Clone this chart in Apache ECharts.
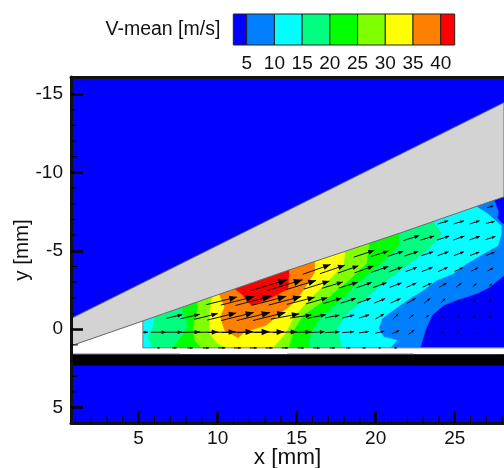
<!DOCTYPE html>
<html><head><meta charset="utf-8">
<style>html,body{margin:0;padding:0;background:#fff}#c{width:504px;height:468px}</style>
<script src="https://cdn.jsdelivr.net/npm/echarts@6/dist/echarts.min.js"></script>
</head><body><div id="c"></div>
<script>
// --- tick values
const xMinorTicks = [1,2,3,4,6,7,8,9,11,12,13,14,16,17,18,19,21,22,23,24,26,27,28];
const yMinorTicks = [-14,-13,-12,-11,-9,-8,-7,-6,-4,-3,-2,-1,1,2,3,4];
// --- colour legend
const legendEdges = [2.58,5,10,15,20,25,30,35,40,42.52];
const legendColors = ['#0000ff','#0080ff','#00ffff','#00ff80','#00ff00','#80ff00','#ffff00','#ff8000','#ff0000'];
// --- filled contour levels: [x mm, y mm] outlines, each painted over the previous
const level5 = [[5.27,1.19],[5.27,-1.5],[26,-10],[28.12,-10],[28.12,-3.43],[27.21,-2.68],[26.37,-2.26],[25.1,-1.84],[24.3,-1.52],[23.57,-0.89],[23.14,0.06],[22.83,1.19]];
const level0Spot = [[27.53,-8.2],[27.8,-7.51],[27.74,-7.09],[27.95,-6.82],[28.12,-6.71],[28.12,-8.6]];
const level10 = [[5.27,1.19],[5.27,-1.5],[25.9,-10],[26.27,-7.88],[27.11,-7.35],[27.95,-6.6],[27.95,-6.07],[27.74,-5.33],[26.79,-4.8],[25.74,-4.17],[24.89,-3.53],[23.84,-3.11],[22.99,-2.47],[22.3,-2.05],[21.24,-1.31],[20.4,-0.68],[20.19,-0.04],[20.51,0.49],[21.35,0.7],[20.93,1.19]];
const level15 = [[6.9,-3],[6.96,-1.31],[6.01,-0.68],[5.91,-0.15],[5.59,0.49],[5.91,1.19],[17.87,1.19],[17.55,-0.04],[18.18,-0.99],[19.45,-2.05],[20.72,-3.11],[21.98,-4.06],[23.25,-5.02],[24.2,-6.07],[23.67,-6.82],[23.6,-10]];
const level20 = [[7.8,-3.5],[7.8,-1.21],[8.12,-0.25],[7.81,0.38],[7.17,1.19],[15.76,1.19],[15.87,0.28],[16.5,-0.78],[17.76,-1.84],[18.92,-3.01],[20.29,-4.17],[21.46,-5.33],[21.46,-6.07],[21.4,-9]];
const level25 = [[8.7,-4],[8.75,-1.31],[8.44,-0.14],[8.54,0.7],[8.97,1.19],[14.49,1.19],[14.81,0.07],[15.4,-0.88],[16.88,-1.94],[18.29,-3.11],[19.41,-4.17],[19.56,-5.23],[19.5,-8.5]];
const level30 = [[9.6,-4.3],[9.7,-2.26],[9.49,-0.99],[9.49,0.28],[10.02,0.92],[10.55,1.19],[13.5,1.19],[14.28,0.28],[14.81,-0.78],[15.65,-1.73],[16.81,-2.9],[17.93,-4.06],[18.04,-4.7],[18,-8]];
const level35 = [[10.2,-4.5],[10.13,-2.16],[10.44,-1.41],[10.17,-0.78],[10.44,0.07],[11.29,0.54],[11.71,0.18],[13.08,-0.25],[13.92,-0.99],[14.56,-1.46],[15.19,-2.15],[15.61,-2.79],[16.14,-3.64],[16.14,-4.06],[16.1,-7]];
const level40 = [[11.1,-4.8],[11.08,-2.58],[11.6,-2.16],[12.13,-1.52],[13.29,-1.94],[14.45,-2.58],[14.51,-3.43],[14.5,-6.5]];
// --- geometry: wedge, gap and plate
const wedge = [[0.72,-0.68],[28.12,-14.45],[28.12,-8.44],[21.77,-6.21],[14.18,-3.66],[5.27,-0.53],[0.84,1.02],[0.72,1.05]];
const gap = [[0.84,1.02],[5.27,-0.53],[5.27,1.19],[28.12,1.19],[28.12,1.62],[0.72,1.62],[0.72,1.05]];
const plate = [[0.72,1.62],[28.12,1.62],[28.12,2.3],[0.72,2.3]];
const fieldEdge = [[5.27,-0.53],[5.27,1.19],[28.12,1.19]];
const plateEdgeLeft = [[0.72,1.58],[7.6,1.58]];
const plateEdgeRight = [[14.4,1.58],[22.4,1.58]];
// --- velocity vectors: centred on arrowColumns[start+k], arrowRows[r]
const arrowColumns = [5.26,6.26,7.26,8.26,9.26,10.26,11.26,12.26,13.26,14.26,15.26,16.26,17.26,18.26,19.26,20.26,21.26,22.26,23.26,24.26,25.26,26.26,27.26];
const arrowRows = [1.19,0.19,-0.81,-1.81,-2.81,-3.81,-4.81,-5.81,-6.81,-7.81];
const arrowStart = [1,0,2,5,8,11,14,17,19,22];
const arrowU = [
 [3,5,6,7,8,8,8,8,7,7,7,6,5,4,3,3],
 [12,17,18,22,27,31,35,36,33,27,23,18,16,13,11,10,8,6.5,2,1,0.7,0.5,0.5],
 [17.5,21.3,26.2,32,36,37,36,31.5,23.7,20.5,15.6,13.5,11.4,9.5,6.4,5,3.8,2,1,1,1],
 [34,37,40,38,36,31,24,20,17,15,12,11,9.5,7,5,2.3,1.7,1.4],
 [41,39,34,28.5,23,21,17,15,13,11,10,8,6,4.2,3],
 [31,27.5,22.7,20.8,19,15,13,12,11,9.5,7.5,6],
 [22.5,19,17,15,13.3,12.3,11.3,10.3,9.3],
 [17.5,15,13.5,12.5,11.5,11],
 [11.5,11.5,11,10],
 [7]
];
const arrowV = [
 [0,0,0,0,0,0,0,0,0,0,0,0,0,0,0,0],
 [0,0,0,-0.5,-0.5,-1,-1,-1,-1,-1,-1,-1,-1,-1,-1.5,-2.5,-3.5,-5,-3,-1,-0.7,-0.5,-0.5],
 [-4,-5,-6.5,-8,-9,-9,-9,-6,-3.5,-4,-3,-3.5,-3.7,-5.5,-6.4,-4.5,-3,-1.5,-1,-1,-1],
 [-8.5,-9.5,-10.5,-10,-9.5,-8,-7,-6,-5.5,-5.5,-5,-5,-5.5,-5.5,-5,-2,-1.7,-1.4],
 [-12.5,-12,-10.5,-9,-7,-6.5,-6,-5.5,-5,-5,-4.5,-4.5,-4.5,-3.5,-3],
 [-11,-9.5,-8,-7.5,-6.5,-5.5,-5,-5,-5,-4.5,-4,-3.5],
 [-7.5,-6,-5.5,-5,-4.5,-4.5,-4.5,-4,-3.5],
 [-5.5,-4.5,-4.5,-4.5,-4,-3.5],
 [-3.5,-3.5,-3.5,-2.5],
 [-2]
];
const mmPerMs = 1/17.5;

const X0=0.72, X1=28.12, Y0=-16.08, Y1=5.98;
const fills = [
 {pts:level5,fill:'#0080ff'},{pts:level0Spot,fill:'#0000ff'},{pts:level10,fill:'#00ffff'},{pts:level15,fill:'#00ff80'},
 {pts:level20,fill:'#00ff00'},{pts:level25,fill:'#80ff00'},{pts:level30,fill:'#ffff00'},{pts:level35,fill:'#ff8000'},
 {pts:level40,fill:'#ff0000'},
 {pts:gap,fill:'#ffffff'},{pts:plate,fill:'#000000'},
 {pts:wedge,fill:'#d3d3d3',stroke:'#6a6a6a'}
];
const edges = [fieldEdge,plateEdgeLeft,plateEdgeRight];
const arrowData=[];
arrowRows.forEach((y,r)=>arrowU[r].forEach((u,k)=>arrowData.push([arrowColumns[arrowStart[r]+k],y,u,arrowV[r][k]])));

const font='"Liberation Sans",Arial,sans-serif';
const chart=echarts.init(document.getElementById('c'),null,{renderer:'canvas'});
chart.setOption({
 animation:false,
 backgroundColor:'#fff',
 title:{text:'V-mean [m/s]',left:105.5,top:20,padding:0,textStyle:{fontFamily:font,fontSize:19.5,fontWeight:'normal',color:'#111'}},
 grid:[
  {left:71,right:0,top:77,bottom:45,show:true,backgroundColor:'#0000ff',borderWidth:0,outerBoundsMode:'none',containLabel:false},
  {left:233.3,width:221.4,top:14,height:31,show:false,outerBoundsMode:'none',containLabel:false}
 ],
 xAxis:[
  {type:'value',gridIndex:0,min:X0,max:X1,splitNumber:5,position:'bottom',z:6,
   name:'x [mm]',nameLocation:'middle',nameGap:23,nameMoveOverlap:false,nameTextStyle:{fontFamily:font,fontSize:22.5,color:'#111'},
   axisLine:{onZero:false,lineStyle:{color:'#111',width:3}},
   axisTick:{inside:true,length:12,lineStyle:{color:'#000',width:2.5}},
   axisLabel:{showMinLabel:false,showMaxLabel:false,margin:6,fontFamily:font,fontSize:19,color:'#111'},
   splitLine:{show:false}},
  {type:'value',gridIndex:0,min:X0,max:X1,splitNumber:5,position:'top',z:6,
   axisLine:{onZero:false,lineStyle:{color:'#111',width:3}},axisTick:{show:false},axisLabel:{show:false},splitLine:{show:false}},
  {type:'value',gridIndex:1,min:legendEdges[0],max:legendEdges[9],splitNumber:8,position:'bottom',
   axisLine:{show:false},axisTick:{show:false},splitLine:{show:false},
   axisLabel:{showMinLabel:false,showMaxLabel:false,margin:9,fontFamily:font,fontSize:19,color:'#111'}}
 ],
 yAxis:[
  {type:'value',gridIndex:0,min:Y0,max:Y1,inverse:true,splitNumber:5,position:'left',z:6,
   name:'y [mm]',nameLocation:'middle',nameGap:38,nameMoveOverlap:false,nameRotate:90,nameTextStyle:{fontFamily:font,fontSize:20.5,color:'#111'},
   axisLine:{onZero:false,lineStyle:{color:'#111',width:3}},
   axisTick:{inside:true,length:12,lineStyle:{color:'#000',width:2.5}},
   axisLabel:{showMinLabel:false,showMaxLabel:false,margin:8,fontFamily:font,fontSize:19,color:'#111'},
   splitLine:{show:false}},
  {type:'value',gridIndex:1,min:0,max:1,show:false}
 ],
 series:[
  {type:'custom',coordinateSystem:'cartesian2d',xAxisIndex:0,yAxisIndex:0,z:2,silent:true,
   data:fills.map((f,i)=>[i]),
   renderItem:(p,api)=>{const f=fills[api.value(0)];return {type:'polygon',shape:{points:f.pts.map(q=>api.coord(q))},
     style:{fill:f.fill,stroke:f.stroke||f.fill,lineWidth:f.stroke?1:0.5}};}},
  {type:'custom',coordinateSystem:'cartesian2d',xAxisIndex:0,yAxisIndex:0,z:3,silent:true,
   data:edges.map((e,i)=>[i]),
   renderItem:(p,api)=>({type:'polyline',shape:{points:edges[api.value(0)].map(q=>api.coord(q))},style:{stroke:'#555',lineWidth:0.8,fill:'none'}})},
  {type:'custom',coordinateSystem:'cartesian2d',xAxisIndex:0,yAxisIndex:0,z:4,silent:true,
   data:arrowData,encode:{x:0,y:1},
   renderItem:(p,api)=>{
     const x=api.value(0),y=api.value(1),u=api.value(2)*mmPerMs,v=api.value(3)*mmPerMs;
     const a=api.coord([x-u/2,y-v/2]),b=api.coord([x+u/2,y+v/2]);
     const dx=b[0]-a[0],dy=b[1]-a[1],L=Math.hypot(dx,dy)||1,ux=dx/L,uy=dy/L;
     const hl=1.5+L*0.2,hw=hl*0.4;
     const c=[b[0]-ux*hl,b[1]-uy*hl];
     const edge=api.coord([fieldEdge[0][0],Y0]);
     return {type:'group',clipPath:{type:'rect',shape:{x:edge[0],y:0,width:600,height:600}},children:[
       {type:'line',shape:{x1:a[0],y1:a[1],x2:b[0],y2:b[1]},style:{stroke:'#111',lineWidth:1}},
       {type:'polygon',shape:{points:[b,[c[0]-uy*hw,c[1]+ux*hw],[c[0]+uy*hw,c[1]-ux*hw]]},style:{fill:'#000'}}
     ]};
   }},
  {type:'custom',coordinateSystem:'cartesian2d',xAxisIndex:0,yAxisIndex:0,z:7,silent:true,
   data:xMinorTicks.map(v=>[v]),encode:{x:0},
   renderItem:(p,api)=>{const q=api.coord([api.value(0),Y1]);return {type:'line',shape:{x1:q[0],y1:q[1],x2:q[0],y2:q[1]-7},style:{stroke:'#000',lineWidth:1}};}},
  {type:'custom',coordinateSystem:'cartesian2d',xAxisIndex:0,yAxisIndex:0,z:7,silent:true,
   data:yMinorTicks.map(v=>[v]),encode:{y:0},
   renderItem:(p,api)=>{const q=api.coord([X0,api.value(0)]);return {type:'line',shape:{x1:q[0],y1:q[1],x2:q[0]+7,y2:q[1]},style:{stroke:'#000',lineWidth:1}};}},
  {type:'custom',coordinateSystem:'cartesian2d',xAxisIndex:2,yAxisIndex:1,z:2,silent:true,
   data:legendColors.map((c,i)=>[i]),
   renderItem:(p,api)=>{const i=api.value(0),a=api.coord([legendEdges[i],1]),b=api.coord([legendEdges[i+1],0]);
     return {type:'rect',shape:{x:a[0],y:a[1],width:b[0]-a[0],height:b[1]-a[1]},style:{fill:legendColors[i],stroke:'#222',lineWidth:1}};}}
 ]
});
</script></body></html>
